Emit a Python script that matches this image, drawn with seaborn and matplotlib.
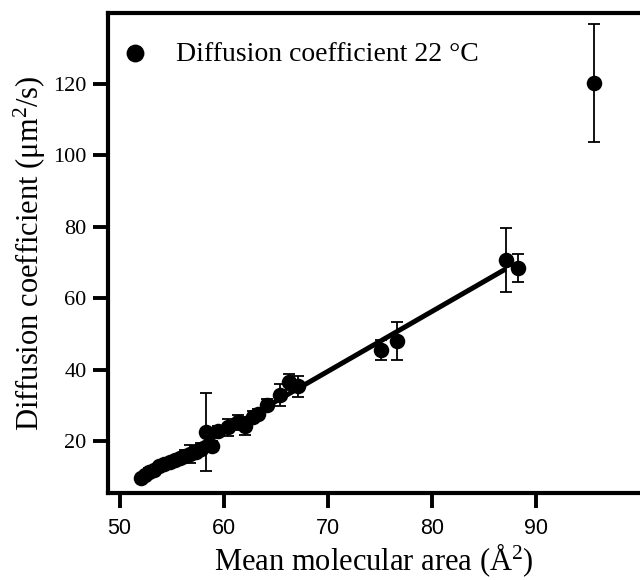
import numpy as np
import pandas as pd
import matplotlib
matplotlib.use("Agg")
import matplotlib.pyplot as plt
import seaborn as sns

# values
area = [52.1, 52.4, 52.8, 53.3, 53.8, 54.3, 54.8, 55.3, 55.8, 56.3,
        56.8, 57.3, 57.8, 58.3, 58.9, 59.5, 60.4, 61.4, 62.0, 62.8,
        63.3, 64.2, 65.4, 66.3, 67.1, 75.1, 76.7, 87.1, 88.3, 95.6]
diff = [9.6, 10.4, 11.3, 12.0, 12.9, 13.6, 14.2, 14.8, 15.3, 15.9,
        16.3, 17.0, 17.8, 22.5, 18.6, 22.8, 23.8, 25.2, 24.2, 26.8,
        27.6, 30.2, 32.9, 36.5, 35.3, 45.6, 47.9, 70.7, 68.5, 120.2]
err = [0.8, 0.8, 1.0, 1.0, 1.0, 1.0, 1.0, 1.0, 1.0, 1.5,
       2.5, 1.5, 1.5, 11.0, 1.5, 1.5, 2.5, 2.0, 2.5, 1.5,
       1.5, 1.5, 3.2, 2.2, 3.0, 2.8, 5.3, 9.0, 3.9, 16.5]

x_ticks = [50, 60, 70, 80, 90]
y_ticks = [20, 40, 60, 80, 100, 120]
legend_label = "Diffusion coefficient 22 °C"

df = pd.DataFrame({"area": area, "diff": diff, "err": err})
# the fitted line only covers the points up to ~87 A^2
fit_df = df[df["area"] < 88]

sns.set_theme(style="ticks")
plt.rcParams["font.family"] = ["Liberation Serif", "DejaVu Serif"]
plt.rcParams["mathtext.fontset"] = "custom"
plt.rcParams["mathtext.rm"] = "Liberation Serif"
plt.rcParams["mathtext.it"] = "Liberation Serif:italic"
plt.rcParams["text.color"] = "black"
plt.rcParams["axes.labelcolor"] = "black"
plt.rcParams["xtick.color"] = "black"
plt.rcParams["ytick.color"] = "black"

fig = plt.figure(figsize=(6.4, 5.8), dpi=100)
ax = fig.add_axes([0.169, 0.1495, 0.831, 0.8275])

# linear fit
sns.regplot(data=fit_df, x="area", y="diff", scatter=False, ci=None,
            color="black", line_kws={"lw": 3.6, "solid_capstyle": "butt"}, ax=ax)

# error bars
ax.errorbar(df["area"], df["diff"], yerr=df["err"], fmt="none", ecolor="black",
            elinewidth=1.3, capsize=4.3, capthick=1.3, zorder=3)

# points
sns.scatterplot(data=df, x="area", y="diff", color="black", s=125,
                linewidth=0, label=legend_label, zorder=4, ax=ax)

ax.set_xlim(48.9, 100)
ax.set_ylim(5.35, 139.8)
ax.set_xticks(x_ticks)
ax.set_yticks(y_ticks)

for side in ["left", "bottom", "top"]:
    ax.spines[side].set_linewidth(3.0)
    ax.spines[side].set_color("black")
ax.spines["right"].set_visible(False)

ax.tick_params(direction="out", length=10.5, width=2.8, color="black",
               labelcolor="black")
ax.tick_params(axis="x", pad=7)
ax.tick_params(axis="y", pad=5)
for lab in ax.get_xticklabels():
    lab.set_family(["Liberation Sans", "DejaVu Sans"])
    lab.set_fontsize(15.5)
for lab in ax.get_yticklabels():
    lab.set_family(["Liberation Serif", "DejaVu Serif"])
    lab.set_fontsize(16)

ax.set_xlabel("Mean molecular area (Å$^{2}$)", fontsize=22, labelpad=2,
              color="black")
ax.set_ylabel("Diffusion coefficient (μm$^{2}$/s)", fontsize=22, labelpad=4,
              color="black")

leg = ax.legend(loc="upper left", bbox_to_anchor=(0.024, 0.942), frameon=False,
                fontsize=20, borderaxespad=0, borderpad=0, handlelength=1.0,
                handletextpad=0.97, markerscale=1.15)
for t in leg.get_texts():
    t.set_color("black")

fig.savefig("out.png", dpi=100)
